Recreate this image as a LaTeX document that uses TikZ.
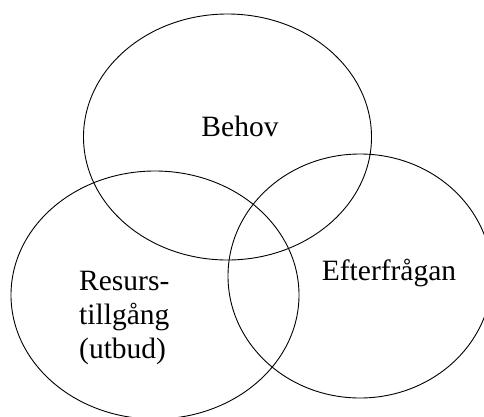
\documentclass[tikz,border=0pt]{standalone}
\usepackage{fontspec}
\setmainfont{Liberation Serif}
\begin{document}
\begin{tikzpicture}[x=1pt,y=-1pt,
  venn/.style={draw=black,line width=0.9pt},
  lbl/.style={inner sep=0pt,font=\fontsize{29.5}{34}\selectfont}]
\useasboundingbox (0,0) rectangle (484,416);
\clip (0,0) rectangle (484,416);
\draw[venn] (227.5,137) ellipse [x radius=144pt, y radius=123pt];
\draw[venn] (155,295) ellipse [x radius=144pt, y radius=124pt];
\draw[venn] (360,276) ellipse [x radius=132pt, y radius=122pt];
\node[lbl,anchor=base] (behov) at (240,136.7) {Behov};
\node[lbl,anchor=base] (efter) at (389,280) {Efterfrågan};
\node[lbl,anchor=north west,align=left] (resurs) at (79,271) {Resurs-\\tillgång\\(utbud)};
\end{tikzpicture}
\end{document}
